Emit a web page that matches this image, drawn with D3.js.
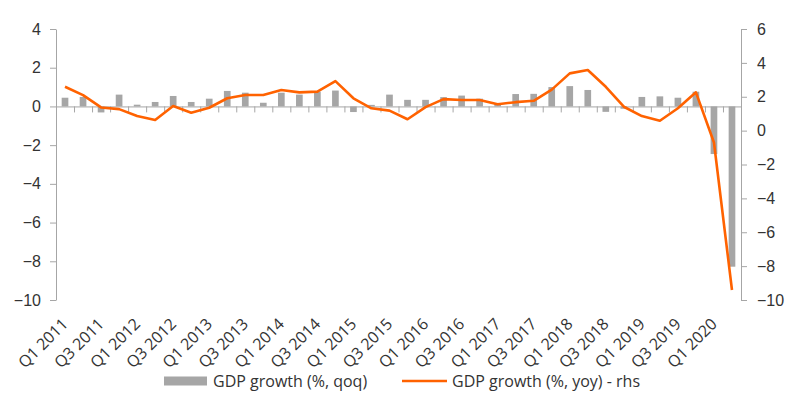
<!DOCTYPE html>
<html>
<head>
<meta charset="utf-8">
<script src="https://cdn.jsdelivr.net/npm/d3@7"></script>
<style>
  html, body { margin: 0; padding: 0; background: #fff; }
  svg { display: block; font-family: "Open Sans", "Noto Sans", sans-serif; }
</style>
</head>
<body>
<svg id="chart" width="800" height="412"></svg>
<script>
const quarters = [
  "Q1 2011", "Q2 2011", "Q3 2011", "Q4 2011",
  "Q1 2012", "Q2 2012", "Q3 2012", "Q4 2012",
  "Q1 2013", "Q2 2013", "Q3 2013", "Q4 2013",
  "Q1 2014", "Q2 2014", "Q3 2014", "Q4 2014",
  "Q1 2015", "Q2 2015", "Q3 2015", "Q4 2015",
  "Q1 2016", "Q2 2016", "Q3 2016", "Q4 2016",
  "Q1 2017", "Q2 2017", "Q3 2017", "Q4 2017",
  "Q1 2018", "Q2 2018", "Q3 2018", "Q4 2018",
  "Q1 2019", "Q2 2019", "Q3 2019", "Q4 2019",
  "Q1 2020", "Q2 2020"
]

// GDP growth, % qoq (left axis)
const gdpQoq = [
  0.45, 0.49, -0.31, 0.61,
  0.09, 0.23, 0.54, 0.23,
  0.40, 0.80, 0.71, 0.19,
  0.71, 0.61, 0.76, 0.82,
  -0.29, 0.08, 0.61, 0.34,
  0.34, 0.48, 0.56, 0.40,
  0.13, 0.64, 0.65, 1.00,
  1.05, 0.85, -0.28, -0.12,
  0.49, 0.52, 0.45, 0.76,
  -2.46, -8.28
]

// GDP growth, % yoy (right axis)
const gdpYoy = [
  2.59, 2.10, 1.37, 1.27,
  0.86, 0.63, 1.45, 1.06,
  1.35, 1.91, 2.10, 2.10,
  2.40, 2.26, 2.30, 2.92,
  1.91, 1.32, 1.18, 0.67,
  1.39, 1.86, 1.81, 1.81,
  1.56, 1.68, 1.76, 2.42,
  3.38, 3.58, 2.59, 1.41,
  0.86, 0.58, 1.32, 2.26,
  -0.70, -9.41
]

const leftTicks = [4, 2, 0, -2, -4, -6, -8, -10]
const rightTicks = [6, 4, 2, 0, -2, -4, -6, -8, -10]

const legendItems = ["GDP growth (%, qoq)", "GDP growth (%, yoy) - rhs"]

const colors = { bar: "#a6a6a6", line: "#ff6200", axis: "#a6a6a6", text: "#333333" }
const fontSize = "16px"

const margin = { left: 56, right: 59, top: 29, bottom: 112 }
const width = 800, height = 412
const innerW = width - margin.left - margin.right
const innerH = height - margin.top - margin.bottom

const svg = d3.select("#chart")
const chart = svg.append("g").attr("transform", `translate(${margin.left},${margin.top})`)

const data = quarters.map((q, i) => ({ q, i, qoq: gdpQoq[i], yoy: gdpYoy[i] }))

// Scales
const x = d3.scaleBand().domain(quarters).range([0, innerW]).paddingInner(0.63).paddingOuter(0.315)
const xEdge = d3.scaleLinear().domain([0, quarters.length]).range([0, innerW])
const yL = d3.scaleLinear().domain([-10, 4]).range([innerH, 0])
const yR = d3.scaleLinear().domain([-10, 6]).range([innerH, 0])

const styleAxis = g => {
  g.selectAll(".domain").attr("stroke", colors.axis)
  g.selectAll(".tick line").attr("stroke", colors.axis)
  g.selectAll(".tick text")
    .attr("fill", colors.text)
    .style("font-size", fontSize)
}

// Left axis
chart.append("g")
  .call(d3.axisLeft(yL).tickValues(leftTicks).tickSize(6).tickSizeOuter(0).tickPadding(9).tickFormat(d3.format("d")))
  .call(styleAxis)

// Right axis
chart.append("g")
  .attr("transform", `translate(${innerW},0)`)
  .call(d3.axisRight(yR).tickValues(rightTicks).tickSize(6).tickSizeOuter(0).tickPadding(10).tickFormat(d3.format("d")))
  .call(styleAxis)

// Bars
chart.selectAll(".bar")
  .data(data)
  .enter()
  .append("rect")
  .attr("class", "bar")
  .attr("x", d => x(d.q))
  .attr("width", x.bandwidth())
  .attr("y", d => yL(Math.max(0, d.qoq)))
  .attr("height", d => Math.abs(yL(d.qoq) - yL(0)))
  .attr("fill", colors.bar)

// Category axis on the zero line (ticks at band edges)
chart.append("g")
  .attr("transform", `translate(0,${yL(0)})`)
  .call(d3.axisBottom(xEdge).tickValues(d3.range(0, quarters.length + 1)).tickSize(6).tickSizeOuter(0).tickFormat(""))
  .call(styleAxis)

// Line
const line = d3.line()
  .x(d => x(d.q) + x.bandwidth() / 2)
  .y(d => yR(d.yoy))

chart.append("path")
  .datum(data)
  .attr("fill", "none")
  .attr("stroke", colors.line)
  .attr("stroke-width", 2.6)
  .attr("stroke-linejoin", "round")
  .attr("d", line)

// Rotated category labels (every second quarter)
chart.append("g")
  .selectAll("text")
  .data(data.filter(d => d.i % 2 === 0))
  .enter()
  .append("text")
  .attr("transform", d => `translate(${x(d.q) + x.bandwidth() / 2 + 4},${innerH + 25}) rotate(-45)`)
  .attr("text-anchor", "end")
  .attr("fill", colors.text)
  .style("font-size", fontSize)
  .text(d => d.q)

// Legend
const legend = svg.append("g").attr("transform", "translate(164,381)")

legend.append("rect")
  .attr("x", 0).attr("y", -4.5)
  .attr("width", 43).attr("height", 9)
  .attr("fill", colors.bar)

legend.append("text")
  .attr("x", 49).attr("dy", "0.35em")
  .attr("fill", colors.text)
  .style("font-size", fontSize)
  .text(legendItems[0])

legend.append("line")
  .attr("x1", 238).attr("x2", 283)
  .attr("stroke", colors.line)
  .attr("stroke-width", 2.6)

legend.append("text")
  .attr("x", 288).attr("dy", "0.35em")
  .attr("fill", colors.text)
  .style("font-size", fontSize)
  .text(legendItems[1])
</script>
</body>
</html>
